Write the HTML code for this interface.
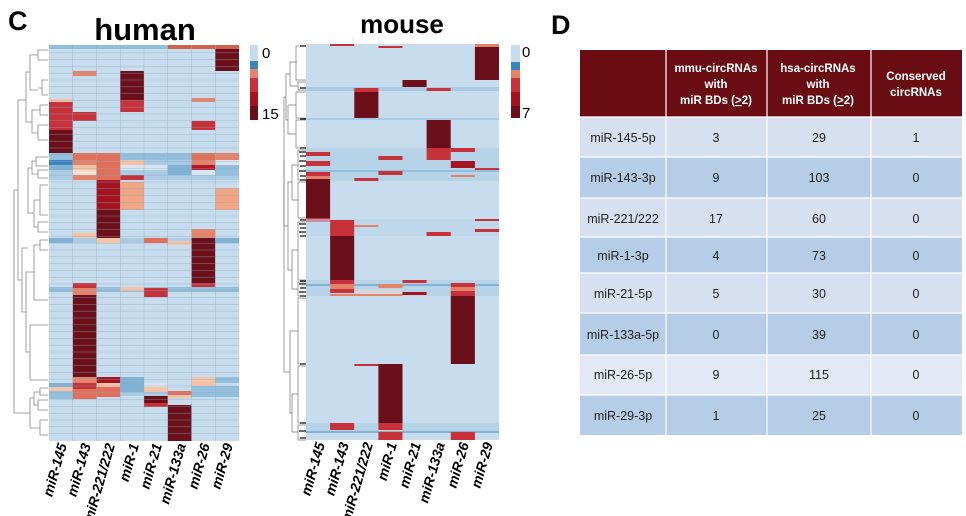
<!DOCTYPE html>
<html><head><meta charset="utf-8"><style>
html,body{margin:0;padding:0;background:#fff;width:966px;height:516px;overflow:hidden}
svg{display:block}
text{font-family:"Liberation Sans",Arial,sans-serif}
</style></head><body>
<svg width="966" height="516" viewBox="0 0 966 516" xmlns="http://www.w3.org/2000/svg">
<text x="8" y="30" font-size="27" font-weight="bold">C</text>
<text x="145" y="40" font-size="31" font-weight="bold" text-anchor="middle">human</text>
<text x="402" y="33" font-size="26" font-weight="bold" text-anchor="middle">mouse</text>
<text x="551" y="34" font-size="27" font-weight="bold">D</text>

<g>
<rect x="49" y="45" width="190" height="396" fill="#c7ddee"/>
<rect x="49" y="45" width="119" height="4" fill="#92bfdc"/>
<rect x="168" y="45" width="71" height="4" fill="#d4604f"/>
<rect x="215.25" y="49" width="23.75" height="22" fill="#6b0f1a"/>
<rect x="72.75" y="71" width="23.75" height="5" fill="#e5826a"/>
<rect x="120.25" y="71" width="23.75" height="29" fill="#6b0f1a"/>
<rect x="120.25" y="100" width="23.75" height="12" fill="#c6313a"/>
<rect x="49" y="99" width="23.75" height="4" fill="#f6c3a6"/>
<rect x="191.5" y="98" width="23.75" height="4" fill="#e5826a"/>
<rect x="49" y="102" width="23.75" height="28" fill="#c6313a"/>
<rect x="49" y="130" width="23.75" height="23" fill="#6b0f1a"/>
<rect x="72.75" y="112" width="23.75" height="9" fill="#c6313a"/>
<rect x="191.5" y="121" width="23.75" height="9" fill="#c6313a"/>
<rect x="49" y="153" width="190" height="27" fill="#a9cce4"/>
<rect x="49" y="153" width="23.75" height="7" fill="#92bfdc"/>
<rect x="72.75" y="153" width="23.75" height="7" fill="#e0705a"/>
<rect x="96.5" y="153" width="23.75" height="27" fill="#e0705a"/>
<rect x="120.25" y="153" width="71.25" height="7" fill="#92bfdc"/>
<rect x="191.5" y="153" width="23.75" height="7" fill="#e0705a"/>
<rect x="215.25" y="153" width="23.75" height="7" fill="#e5826a"/>
<rect x="49" y="160" width="23.75" height="5" fill="#3a84c0"/>
<rect x="72.75" y="160" width="23.75" height="5" fill="#e5826a"/>
<rect x="120.25" y="160" width="23.75" height="5" fill="#f6c3a6"/>
<rect x="191.5" y="160" width="23.75" height="5" fill="#e5826a"/>
<rect x="215.25" y="160" width="23.75" height="5" fill="#d9e6f1"/>
<rect x="49" y="165" width="23.75" height="5" fill="#7fb2d6"/>
<rect x="72.75" y="165" width="23.75" height="5" fill="#f6c3a6"/>
<rect x="120.25" y="165" width="47.5" height="5" fill="#d9e6f1"/>
<rect x="167.75" y="165" width="23.75" height="10" fill="#7fb2d6"/>
<rect x="191.5" y="165" width="23.75" height="5" fill="#b2182b"/>
<rect x="215.25" y="165" width="23.75" height="10" fill="#92bfdc"/>
<rect x="72.75" y="170" width="23.75" height="5" fill="#fbe0cf"/>
<rect x="191.5" y="170" width="23.75" height="5" fill="#d9e6f1"/>
<rect x="72.75" y="175" width="23.75" height="5" fill="#e5826a"/>
<rect x="120.25" y="175" width="23.75" height="5" fill="#c6313a"/>
<rect x="96.5" y="180" width="23.75" height="30" fill="#a31420"/>
<rect x="96.5" y="210" width="23.75" height="28" fill="#6b0f1a"/>
<rect x="120.25" y="182" width="23.75" height="28" fill="#f1a584"/>
<rect x="215.25" y="188" width="23.75" height="22" fill="#f1a584"/>
<rect x="191.5" y="229" width="23.75" height="9" fill="#e5826a"/>
<rect x="72.75" y="233" width="23.75" height="5" fill="#f6c3a6"/>
<rect x="49" y="238" width="190" height="5" fill="#a9cce4"/>
<rect x="49" y="238" width="23.75" height="5" fill="#7fb2d6"/>
<rect x="96.5" y="238" width="23.75" height="5" fill="#f6c3a6"/>
<rect x="144" y="238" width="23.75" height="5" fill="#e0705a"/>
<rect x="167.75" y="241" width="23.75" height="4" fill="#f6c3a6"/>
<rect x="215.25" y="238" width="23.75" height="5" fill="#7fb2d6"/>
<rect x="191.5" y="238" width="23.75" height="46" fill="#6b0f1a"/>
<rect x="191.5" y="283" width="23.75" height="6" fill="#c6313a"/>
<rect x="191.5" y="289" width="23.75" height="3" fill="#e5826a"/>
<rect x="49" y="287" width="190" height="5" fill="#92bfdc"/>
<rect x="72.75" y="283" width="23.75" height="5" fill="#c6313a"/>
<rect x="72.75" y="288" width="23.75" height="7" fill="#e5826a"/>
<rect x="72.75" y="295" width="23.75" height="82" fill="#6b0f1a"/>
<rect x="120.25" y="287" width="23.75" height="4" fill="#f6c3a6"/>
<rect x="144" y="288" width="23.75" height="9" fill="#c6313a"/>
<rect x="49" y="383" width="23.75" height="4" fill="#7fb2d6"/>
<rect x="49" y="387" width="23.75" height="4" fill="#f6c3a6"/>
<rect x="49" y="391" width="23.75" height="8" fill="#92bfdc"/>
<rect x="72.75" y="377" width="23.75" height="6" fill="#e5826a"/>
<rect x="72.75" y="383" width="23.75" height="6" fill="#c6313a"/>
<rect x="72.75" y="389" width="23.75" height="10" fill="#e0705a"/>
<rect x="96.5" y="377" width="23.75" height="6" fill="#a31420"/>
<rect x="96.5" y="383" width="23.75" height="4" fill="#f6c3a6"/>
<rect x="96.5" y="387" width="23.75" height="10" fill="#e0705a"/>
<rect x="120.25" y="377" width="23.75" height="15" fill="#7fb2d6"/>
<rect x="144" y="383" width="23.75" height="4" fill="#d9e6f1"/>
<rect x="144" y="387" width="23.75" height="5" fill="#f6c3a6"/>
<rect x="191.5" y="377" width="23.75" height="9" fill="#f6c3a6"/>
<rect x="215.25" y="377" width="23.75" height="6" fill="#92bfdc"/>
<rect x="191.5" y="386" width="47.5" height="5" fill="#92bfdc"/>
<rect x="120.25" y="392" width="47.5" height="4" fill="#a9cce4"/>
<rect x="191.5" y="391" width="47.5" height="6" fill="#92bfdc"/>
<rect x="167.75" y="391" width="23.75" height="4" fill="#e0705a"/>
<rect x="167.75" y="395" width="23.75" height="3" fill="#f6c3a6"/>
<rect x="144" y="396" width="23.75" height="8" fill="#6b0f1a"/>
<rect x="144" y="403" width="23.75" height="4" fill="#c6313a"/>
<rect x="167.75" y="405" width="23.75" height="36" fill="#6b0f1a"/>
<g stroke="#8fa9bd" stroke-width="0.5" opacity="0.7">
<path d="M72.75 45V441M96.5 45V441M120.25 45V441M144 45V441M167.75 45V441M191.5 45V441M215.25 45V441"/>
<path d="M49 52.8H239M49 59.6H239M49 66.4H239M49 73.2H239M49 80H239M49 86.8H239M49 93.6H239M49 100.4H239M49 107.2H239M49 114H239M49 120.8H239M49 127.6H239M49 134.4H239M49 141.2H239M49 148H239M49 154.8H239M49 161.6H239M49 168.4H239M49 175.2H239M49 182H239M49 188.8H239M49 195.6H239M49 202.4H239M49 209.2H239M49 216H239M49 222.8H239M49 229.6H239M49 236.4H239M49 243.2H239M49 250H239M49 256.8H239M49 263.6H239M49 270.4H239M49 277.2H239M49 284H239M49 290.8H239M49 297.6H239M49 304.4H239M49 311.2H239M49 318H239M49 324.8H239M49 331.6H239M49 338.4H239M49 345.2H239M49 352H239M49 358.8H239M49 365.6H239M49 372.4H239M49 379.2H239M49 386H239M49 392.8H239M49 399.6H239M49 406.4H239M49 413.2H239M49 420H239M49 426.8H239M49 433.6H239"/>
</g>
</g>
<g stroke="#888" stroke-width="0.8" fill="none">
<path d="M48 50H38V60H48M38 55H30V90H38M48 80H42V95H48M42 88H38"/>
<path d="M48 105H40V115H48M48 125H38V140H48M40 110H32V133H38M32 122H26V72H30"/>
<path d="M48 157H36V166H48M48 170H38V178H48M36 161H32V174H38M48 185H40V215H48M48 222H38V232H48M40 200H34V227H38M32 168H28V213H34"/>
<path d="M48 240H40V250H48M40 245H34V300H48M48 325H30V380H48M34 272H26V352H30M26 312H22V248H28M22 280H18V100H26"/>
<path d="M48 388H40V395H48M48 400H38V410H48M40 392H34V405H38M48 420H40V435H48M34 398H30V428H40M30 413H14V190H18"/>
</g>
<rect x="250" y="45" width="8" height="16" fill="#c7ddee"/>
<rect x="250" y="61" width="8" height="8" fill="#3a84c0"/>
<rect x="250" y="69" width="8" height="9" fill="#e5826a"/>
<rect x="250" y="78" width="8" height="14" fill="#c6313a"/>
<rect x="250" y="92" width="8" height="14" fill="#a31420"/>
<rect x="250" y="106" width="8" height="14" fill="#6b0f1a"/>
<text x="262" y="58" font-size="15">0</text>
<text x="262" y="119" font-size="15">15</text>

<g font-size="14" font-weight="bold" font-style="italic" text-anchor="end">
<text transform="translate(67,445) rotate(-74)">miR-145</text>
<text transform="translate(91,445) rotate(-74)">miR-143</text>
<text transform="translate(115,445) rotate(-74)">miR-221/222</text>
<text transform="translate(139,445) rotate(-74)">miR-1</text>
<text transform="translate(162,445) rotate(-74)">miR-21</text>
<text transform="translate(186,445) rotate(-74)">miR-133a</text>
<text transform="translate(210,445) rotate(-74)">miR-26</text>
<text transform="translate(233,445) rotate(-74)">miR-29</text>
</g>

<g>
<rect x="306" y="44" width="193" height="396" fill="#c7ddee"/>
<rect x="474.9" y="47" width="24.1" height="33" fill="#6b0f1a"/>
<rect x="474.9" y="44" width="24.1" height="3" fill="#e5826a"/>
<rect x="330.1" y="44" width="24.1" height="2" fill="#c6313a"/>
<rect x="378.4" y="46" width="24.1" height="2" fill="#c6313a"/>
<rect x="402.5" y="80" width="24.1" height="8" fill="#6b0f1a"/>
<rect x="306" y="87" width="193" height="4" fill="#a9cce4"/>
<rect x="426.6" y="88" width="24.1" height="3" fill="#c6313a"/>
<rect x="354.3" y="88" width="24.1" height="4" fill="#c6313a"/>
<rect x="354.3" y="92" width="24.1" height="27" fill="#6b0f1a"/>
<rect x="306" y="118" width="193" height="2" fill="#a9cce4"/>
<rect x="426.6" y="120" width="24.1" height="28" fill="#6b0f1a"/>
<rect x="306" y="148" width="193" height="33" fill="#b7d3e8"/>
<rect x="426.6" y="148" width="24.1" height="12" fill="#c6313a"/>
<rect x="450.8" y="148" width="24.1" height="4" fill="#c6313a"/>
<rect x="306" y="152" width="24.1" height="4" fill="#c6313a"/>
<rect x="378.4" y="156" width="24.1" height="4" fill="#c6313a"/>
<rect x="306" y="161" width="24.1" height="5" fill="#c6313a"/>
<rect x="450.8" y="161" width="24.1" height="7" fill="#a31420"/>
<rect x="474.9" y="168" width="24.1" height="3" fill="#c6313a"/>
<rect x="306" y="170" width="193" height="2" fill="#92bfdc"/>
<rect x="378.4" y="171" width="24.1" height="4" fill="#c6313a"/>
<rect x="306" y="172" width="24.1" height="4" fill="#c6313a"/>
<rect x="306" y="176" width="24.1" height="3" fill="#e5826a"/>
<rect x="354.3" y="178" width="24.1" height="3" fill="#c6313a"/>
<rect x="450.8" y="175" width="24.1" height="2" fill="#e5826a"/>
<rect x="306" y="179" width="24.1" height="39" fill="#6b0f1a"/>
<rect x="306" y="218" width="24.1" height="4" fill="#c6313a"/>
<rect x="306" y="219" width="193" height="17" fill="#b7d3e8" opacity="0.6"/>
<rect x="330.1" y="220" width="24.1" height="16" fill="#c6313a"/>
<rect x="354.3" y="225" width="24.1" height="2" fill="#e5826a"/>
<rect x="474.9" y="219" width="24.1" height="2" fill="#c6313a"/>
<rect x="474.9" y="229" width="24.1" height="3" fill="#c6313a"/>
<rect x="426.6" y="232" width="24.1" height="4" fill="#c6313a"/>
<rect x="330.1" y="236" width="24.1" height="44" fill="#6b0f1a"/>
<rect x="306" y="280" width="193" height="16" fill="#b7d3e8"/>
<rect x="306" y="284" width="193" height="2" fill="#7fb2d6"/>
<rect x="330.1" y="280" width="24.1" height="4" fill="#c6313a"/>
<rect x="330.1" y="284" width="24.1" height="5" fill="#e5826a"/>
<rect x="330.1" y="289" width="24.1" height="4" fill="#c6313a"/>
<rect x="378.4" y="284" width="24.1" height="4" fill="#e5826a"/>
<rect x="402.5" y="280" width="24.1" height="3" fill="#c6313a"/>
<rect x="402.5" y="292" width="24.1" height="3" fill="#a31420"/>
<rect x="354.3" y="289" width="48.2" height="5" fill="#d3d6dc"/>
<rect x="450.8" y="283" width="24.1" height="4" fill="#c6313a"/>
<rect x="450.8" y="287" width="24.1" height="4" fill="#e5826a"/>
<rect x="450.8" y="291" width="24.1" height="5" fill="#c6313a"/>
<rect x="330.1" y="294" width="72.4" height="2" fill="#e5826a"/>
<rect x="450.8" y="296" width="24.1" height="68" fill="#6b0f1a"/>
<rect x="354.3" y="364" width="24.1" height="2" fill="#c6313a"/>
<rect x="378.4" y="364" width="24.1" height="59" fill="#6b0f1a"/>
<rect x="306" y="423" width="193" height="8" fill="#b7d3e8"/>
<rect x="330.1" y="423" width="24.1" height="7" fill="#c6313a"/>
<rect x="378.4" y="423" width="24.1" height="7" fill="#c6313a"/>
<rect x="378.4" y="430" width="24.1" height="2" fill="#f6c3a6"/>
<rect x="306" y="431" width="193" height="2" fill="#7fb2d6"/>
<rect x="378.4" y="432" width="24.1" height="8" fill="#c6313a"/>
<rect x="450.8" y="432" width="24.1" height="8" fill="#c6313a"/>
</g>
<g stroke="#777" stroke-width="0.7" fill="none">
<path d="M306 46H296V80H306M306 82H298V90H306M297 62H290V86H298M306 92H296V118H306M306 120H296V148H306M296 105H288V134H296M290 74H286V120H288"/>
<path d="M306 150H298V180H306M306 182H298V218H306M298 165H292V200H298M306 222H298V280H306M306 282H298V296H306M298 250H292V289H298M292 182H288V270H292M286 97H284V226H288"/>
<path d="M306 298H298V364H306M306 366H298V423H306M306 425H298V440H306M298 394H292V432H298M298 331H290V413H292M290 372H284V160"/>
</g>
<g stroke="#111" stroke-width="1.2">
<path d="M300 46H306M300 88H306M300 119H306M300 148H306M299 152H306M300 156H306M299 161H306M300 166H306M299 171H306M300 176H306M300 180H306M300 220H306M299 224H306M300 228H306M299 232H306M300 236H306M300 281H306M299 284H306M300 288H306M299 292H306M300 296H306M300 364H306M300 423H306M299 431H306M300 438H306"/>
</g>
<rect x="511" y="45" width="9" height="17" fill="#c7ddee"/>
<rect x="511" y="62" width="9" height="8" fill="#3a84c0"/>
<rect x="511" y="70" width="9" height="8" fill="#e5826a"/>
<rect x="511" y="78" width="9" height="14" fill="#c6313a"/>
<rect x="511" y="92" width="9" height="14" fill="#a31420"/>
<rect x="511" y="106" width="9" height="12" fill="#6b0f1a"/>
<text x="522" y="57" font-size="15">0</text>
<text x="522" y="118" font-size="15">7</text>
<g font-size="14" font-weight="bold" font-style="italic" text-anchor="end">
<text transform="translate(325,444) rotate(-74)">miR-145</text>
<text transform="translate(349,444) rotate(-74)">miR-143</text>
<text transform="translate(373,444) rotate(-74)">miR-221/222</text>
<text transform="translate(397,444) rotate(-74)">miR-1</text>
<text transform="translate(421,444) rotate(-74)">miR-21</text>
<text transform="translate(445,444) rotate(-74)">miR-133a</text>
<text transform="translate(469,444) rotate(-74)">miR-26</text>
<text transform="translate(493,444) rotate(-74)">miR-29</text>
</g>

<rect x="580" y="50" width="382" height="385" fill="#fff"/>
<rect x="580" y="50" width="382" height="67" fill="#6a0d12"/>
<rect x="580" y="117" width="382" height="40" fill="#d6e0f0"/>
<rect x="580" y="157" width="382" height="41" fill="#b5cde6"/>
<rect x="580" y="198" width="382" height="39" fill="#d6e0f0"/>
<rect x="580" y="237" width="382" height="36" fill="#b5cde6"/>
<rect x="580" y="273" width="382" height="40" fill="#d6e0f0"/>
<rect x="580" y="313" width="382" height="42" fill="#b5cde6"/>
<rect x="580" y="355" width="382" height="40" fill="#e3e9f4"/>
<rect x="580" y="395" width="382" height="40" fill="#b5cde6"/>
<g stroke="#fff" stroke-width="1.2">
<path d="M666 50V435M767 50V435M871 50V435"/>
<path d="M580 117H962M580 157H962M580 198H962M580 237H962M580 273H962M580 313H962M580 355H962M580 395H962"/>
</g>
<g fill="#fff" font-size="11.5" font-weight="bold" text-anchor="middle">
<text x="716" y="72">mmu-circRNAs</text>
<text x="716" y="88">with</text>
<text x="716" y="104">miR  BDs (<tspan text-decoration="underline">&gt;</tspan>2)</text>
<text x="818" y="72">hsa-circRNAs</text>
<text x="818" y="88">with</text>
<text x="818" y="104">miR  BDs (<tspan text-decoration="underline">&gt;</tspan>2)</text>
<text x="916" y="80">Conserved</text>
<text x="916" y="96">circRNAs</text>
</g>
<g fill="#222" font-size="12.5" text-anchor="middle">
<text x="623" y="142">miR-145-5p</text><text x="716" y="142">3</text><text x="819" y="142">29</text><text x="916" y="142">1</text>
<text x="623" y="182">miR-143-3p</text><text x="716" y="182">9</text><text x="819" y="182">103</text><text x="916" y="182">0</text>
<text x="623" y="223">miR-221/222</text><text x="716" y="223">17</text><text x="819" y="223">60</text><text x="916" y="223">0</text>
<text x="623" y="260">miR-1-3p</text><text x="716" y="260">4</text><text x="819" y="260">73</text><text x="916" y="260">0</text>
<text x="623" y="298">miR-21-5p</text><text x="716" y="298">5</text><text x="819" y="298">30</text><text x="916" y="298">0</text>
<text x="623" y="339">miR-133a-5p</text><text x="716" y="339">0</text><text x="819" y="339">39</text><text x="916" y="339">0</text>
<text x="623" y="379">miR-26-5p</text><text x="716" y="379">9</text><text x="819" y="379">115</text><text x="916" y="379">0</text>
<text x="623" y="420">miR-29-3p</text><text x="716" y="420">1</text><text x="819" y="420">25</text><text x="916" y="420">0</text>
</g>
</svg>
</body></html>
